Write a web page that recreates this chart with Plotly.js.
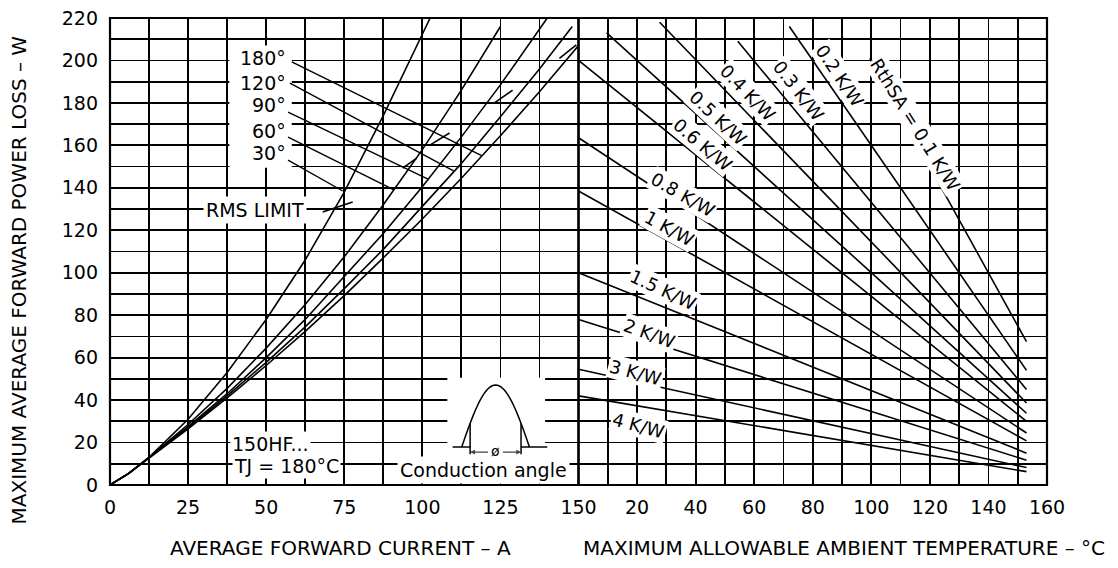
<!DOCTYPE html>
<html><head><meta charset="utf-8">
<script src="https://cdn.plot.ly/plotly-3.0.1.min.js"></script>
<style>body{margin:0;background:#fff}#chart{width:1118px;height:568px}</style>
</head><body><div id="chart"></div>
<script>
// ---- Left panel: power loss vs average current, per conduction angle ----
const ang30_I  = [0, 6, 12.5, 25, 37.5, 50, 62.5, 75, 87.5, 100, 102.5];
const ang30_P  = [0, 5.5, 13, 31, 53, 78, 106, 138, 174, 213, 220];
const ang60_I  = [0, 6, 12.5, 25, 37.5, 50, 62.5, 75, 87.5, 100, 112.5, 125];
const ang60_P  = [0, 5.5, 13, 28.5, 45.5, 64.5, 85, 107.5, 132, 158, 186, 216];
const ang90_I  = [0, 6, 12.5, 25, 37.5, 50, 62.5, 75, 87.5, 100, 112.5, 125, 137.5, 140];
const ang90_P  = [0, 5.5, 13, 27.5, 43, 60, 78, 98, 118.5, 140.5, 164, 188.5, 214.5, 220];
const ang120_I = [0, 6, 12.5, 25, 37.5, 50, 62.5, 75, 87.5, 100, 112.5, 125, 137.5, 148];
const ang120_P = [0, 5.5, 12.8, 27, 42, 57.8, 74.5, 92.5, 111, 131, 151.5, 173.5, 196, 216];
const ang180_I = [0, 6, 12.5, 25, 37.5, 50, 62.5, 75, 87.5, 100, 112.5, 125, 137.5, 150];
const ang180_P = [0, 5.5, 12.7, 26.5, 41, 56.3, 72.4, 89.2, 107, 125.3, 144.5, 164.5, 185.3, 207];

// angle labels and their leader lines
const angleLabels = ['180°', '120°', '90°', '60°', '30°'];
const labelI      = [57, 57, 57, 57, 57];
const labelP      = [201, 189.5, 179, 167, 156.5];
const leadStartI  = [58.2, 57.6, 57, 57, 57];
const leadStartP  = [199.3, 189.3, 175.7, 163.9, 153];
const leadEndI    = [119, 110, 102, 90.9, 74.5];
const leadEndP    = [155.2, 148, 144, 139, 138.5];

// RMS limit dashes
const rmsI = [68.1, 77.7, null, 93.7, 98.2, null, 102.3, 108.7, null, 123.1, 128.9, null, 143.9, 149.3];
const rmsP = [128.6, 133.3, null, 149.3, 154, null, 160, 165.8, null, 180, 186, null, 201, 207.3];

// ---- Right panel: ambient temperature vs heatsink thermal resistance ----
const rthNames  = ['RthSA = 0.1 K/W', '0.2 K/W', '0.3 K/W', '0.4 K/W', '0.5 K/W', '0.6 K/W', '0.8 K/W', '1 K/W', '1.5 K/W', '2 K/W', '3 K/W', '4 K/W'];
const thStartT  = [99.5, 72, 54.4, 27.7, 9.6, 0, 0, 0, 0, 0, 0, 0];
const thStartP  = [201, 216, 209, 218, 213, 200, 163.6, 138.5, 100, 78, 54.5, 42];
const thEndT    = [153, 153, 153, 153, 153, 153, 153, 153, 153, 153, 153, 153];
const thEndP    = [67.5, 54, 45, 38.6, 33.8, 30, 24.5, 20.8, 15, 11.7, 8.2, 6.3];
const thLabelT  = [114.9, 89.2, 75.2, 57.8, 47.5, 42.4, 35.6, 31.1, 28.7, 24.3, 19.5, 20.5];
const thLabelP  = [169.6, 193, 186, 185, 173, 160.6, 137, 121, 92, 71.6, 53, 28];
const thLabelAng= [58, 56, 52, 46, 43, 40, 30, 29, 25, 20, 15, 15];

// ticks
const xTicksLeft  = [0, 25, 50, 75, 100, 125, 150];
const xTicksRight = [20, 40, 60, 80, 100, 120, 140, 160];
const yTicks      = [0, 20, 40, 60, 80, 100, 120, 140, 160, 180, 200, 220];

const FONT = 'DejaVu Sans, Liberation Sans, Arial, sans-serif';
const lineStyle = {color: '#000', width: 1.6};

const traces = [];
[[ang30_I, ang30_P], [ang60_I, ang60_P], [ang90_I, ang90_P], [ang120_I, ang120_P], [ang180_I, ang180_P]]
  .forEach(([x, y]) => traces.push({x, y, type: 'scatter', mode: 'lines', line: lineStyle, xaxis: 'x', yaxis: 'y', hoverinfo: 'skip', showlegend: false}));

// leader lines
const ldX = [], ldY = [];
for (let i = 0; i < angleLabels.length; i++) { ldX.push(leadStartI[i], leadEndI[i], null); ldY.push(leadStartP[i], leadEndP[i], null); }
traces.push({x: ldX, y: ldY, type: 'scatter', mode: 'lines', line: {color: '#000', width: 1.4}, xaxis: 'x', yaxis: 'y', hoverinfo: 'skip', showlegend: false});
traces.push({x: rmsI, y: rmsP, type: 'scatter', mode: 'lines', line: {color: '#000', width: 1.6}, xaxis: 'x', yaxis: 'y', hoverinfo: 'skip', showlegend: false, connectgaps: false});

// thermal lines
for (let i = 0; i < rthNames.length; i++) {
  traces.push({x: [thStartT[i], thEndT[i]], y: [thStartP[i], thEndP[i]], type: 'scatter', mode: 'lines',
    line: {color: '#000', width: 1.6}, xaxis: 'x2', yaxis: 'y', hoverinfo: 'skip', showlegend: false});
}

const annotations = [];
angleLabels.forEach((t, i) => annotations.push({xref: 'x', yref: 'y', x: labelI[i], y: labelP[i], text: t, showarrow: false,
  xanchor: 'right', yanchor: 'middle', font: {family: FONT, size: 19, color: '#000'}}));
annotations.push({xref: 'x', yref: 'y', x: 46.4, y: 129.5, text: 'RMS LIMIT', showarrow: false, bgcolor: '#fff', borderpad: 2,
  font: {family: FONT, size: 19, color: '#000'}});
annotations.push({xref: 'x', yref: 'y', x: 51.5, y: 19.5, text: '150HF...', showarrow: false, bgcolor: '#fff', borderpad: 1,
  font: {family: FONT, size: 19, color: '#000'}});
annotations.push({xref: 'x', yref: 'y', x: 56.6, y: 8.9, text: 'TJ = 180°C', showarrow: false, bgcolor: '#fff', borderpad: 1,
  font: {family: FONT, size: 19, color: '#000'}});
annotations.push({xref: 'x', yref: 'y', x: 119.5, y: 7.3, text: 'Conduction angle', showarrow: false, bgcolor: '#fff', borderpad: 2,
  font: {family: FONT, size: 19, color: '#000'}});
annotations.push({xref: 'x', yref: 'y', x: 123.4, y: 15.8, text: 'ø', showarrow: false, bgcolor: '#fff', borderpad: 0,
  font: {family: FONT, size: 14, color: '#000'}});
// small arrows of the conduction-angle symbol
annotations.push({xref: 'x', yref: 'y', axref: 'x', ayref: 'y', x: 115.3, y: 15.5, ax: 121.5, ay: 15.5, text: '', showarrow: true, arrowhead: 2, arrowsize: 0.8, arrowwidth: 1.2});
annotations.push({xref: 'x', yref: 'y', axref: 'x', ayref: 'y', x: 131.6, y: 15.5, ax: 125.3, ay: 15.5, text: '', showarrow: true, arrowhead: 2, arrowsize: 0.8, arrowwidth: 1.2});

rthNames.forEach((t, i) => annotations.push({xref: 'x2', yref: 'y', x: thLabelT[i], y: thLabelP[i], text: t, showarrow: false,
  textangle: thLabelAng[i], bgcolor: '#fff', borderpad: 1, font: {family: FONT, size: 18, color: '#000'}}));

// axis titles
annotations.push({xref: 'paper', yref: 'paper', x: 0.2455, y: -0.135, xanchor: 'center', yanchor: 'middle',
  text: 'AVERAGE FORWARD CURRENT – A', showarrow: false, font: {family: FONT, size: 20, color: '#000'}});
annotations.push({xref: 'paper', yref: 'paper', x: 0.783, y: -0.135, xanchor: 'center', yanchor: 'middle',
  text: 'MAXIMUM ALLOWABLE AMBIENT TEMPERATURE – °C', showarrow: false, font: {family: FONT, size: 20, color: '#000'}});
annotations.push({xref: 'paper', yref: 'paper', x: -0.0966, y: 0.439, xanchor: 'center', yanchor: 'middle',
  text: 'MAXIMUM AVERAGE FORWARD POWER LOSS – W', showarrow: false, textangle: -90, font: {family: FONT, size: 20, color: '#000'}});

// conduction angle pictogram (half-sine pulse)
const pulseX0 = 112.6, pulseX1 = 134.3, base = 17.9, peak = 47.1;
let path = '';
for (let k = 0; k <= 40; k++) {
  const x = pulseX0 + (pulseX1 - pulseX0) * k / 40;
  const y = base + (peak - base) * Math.sin(Math.PI * k / 40);
  path += (k === 0 ? 'M ' : ' L ') + x + ',' + y;
}
const hX = v => base + (peak - base) * Math.sin(Math.PI * (v - pulseX0) / (pulseX1 - pulseX0));

const shapes = [
  {type: 'rect', xref: 'x', yref: 'y', x0: 38.2, x1: 58.2, y0: 149.5, y1: 207, fillcolor: '#fff', line: {width: 0}, layer: 'between'},
  {type: 'rect', xref: 'x', yref: 'y', x0: 108, x1: 139.3, y0: 12.5, y1: 50.5, fillcolor: '#fff', line: {width: 0}, layer: 'between'},
  {type: 'path', xref: 'x', yref: 'y', path: path, line: {color: '#000', width: 1.5}, layer: 'above'},
  {type: 'line', xref: 'x', yref: 'y', x0: 109.7, x1: 115.3, y0: base, y1: base, line: {color: '#000', width: 1.5}},
  {type: 'line', xref: 'x', yref: 'y', x0: 131.6, x1: 140, y0: base, y1: base, line: {color: '#000', width: 1.5}},
  {type: 'line', xref: 'x', yref: 'y', x0: 115.3, x1: 115.3, y0: 14.5, y1: hX(115.3), line: {color: '#000', width: 1.5}},
  {type: 'line', xref: 'x', yref: 'y', x0: 131.6, x1: 131.6, y0: 14.5, y1: hX(131.6), line: {color: '#000', width: 1.5}},
  {type: 'rect', xref: 'x domain', yref: 'y domain', x0: 0, x1: 1, y0: 0, y1: 1, line: {color: '#000', width: 2.2}, layer: 'above'},
  {type: 'rect', xref: 'x2 domain', yref: 'y domain', x0: 0, x1: 1, y0: 0, y1: 1, line: {color: '#000', width: 2.2}, layer: 'above'}
];

const gridCommon = {showgrid: true, gridcolor: '#000', gridwidth: 1.8, zeroline: false, showline: false, ticks: '',
  tickfont: {family: FONT, size: 19, color: '#000'}, fixedrange: true};

const layout = {
  width: 1118, height: 568,
  margin: {l: 110, r: 71, t: 18, b: 83},
  paper_bgcolor: '#fff', plot_bgcolor: '#fff',
  showlegend: false,
  font: {family: FONT, color: '#000'},
  xaxis: Object.assign({}, gridCommon, {domain: [0, 0.5], range: [0, 150], tickmode: 'array', tickvals: xTicksLeft,
    ticktext: xTicksLeft.map(String), anchor: 'y', ticklabelstandoff: 9,
    minor: {dtick: 12.5, tick0: 0, showgrid: true, gridcolor: '#000', gridwidth: 1.8}}),
  xaxis2: Object.assign({}, gridCommon, {domain: [0.5, 1], range: [0, 160], tickmode: 'array', tickvals: xTicksRight,
    ticktext: xTicksRight.map(String), anchor: 'y', ticklabelstandoff: 9,
    minor: {dtick: 10, tick0: 0, showgrid: true, gridcolor: '#000', gridwidth: 1.8}}),
  yaxis: Object.assign({}, gridCommon, {range: [0, 220], tickmode: 'array', tickvals: yTicks, ticktext: yTicks.map(String),
    anchor: 'x', ticklabelstandoff: 11,
    minor: {dtick: 10, tick0: 0, showgrid: true, gridcolor: '#000', gridwidth: 1.8}}),
  shapes: shapes,
  annotations: annotations
};

Plotly.newPlot('chart', traces, layout, {staticPlot: true, displayModeBar: false});
</script>
</body></html>
